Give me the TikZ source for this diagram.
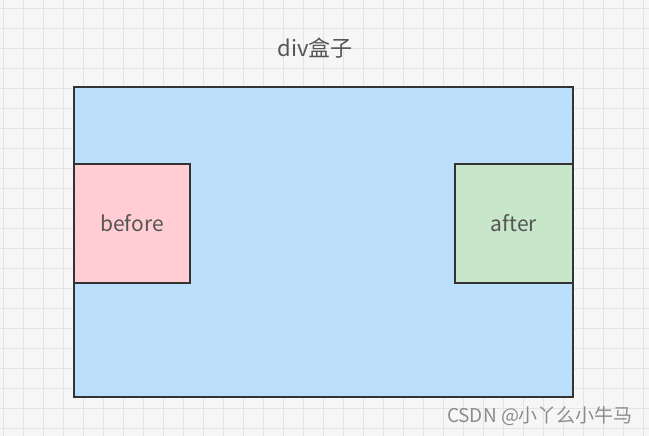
\documentclass[tikz,border=0pt]{standalone}
\usepackage{fontspec}
\newfontfamily\cjk{Noto Sans CJK SC}
\usepackage{tikz}
\definecolor{paper}{RGB}{246,246,246}
\definecolor{gridln}{RGB}{228,228,228}
\definecolor{divblue}{RGB}{187,222,250}
\definecolor{befpink}{RGB}{255,205,210}
\definecolor{aftgreen}{RGB}{200,230,201}
\definecolor{edge}{RGB}{51,51,51}
\definecolor{ink}{RGB}{85,85,85}
\begin{document}
\begin{tikzpicture}[x=1pt,y=-1pt,
  box/.style={draw=edge, line width=2.6pt, rectangle, inner sep=0pt},
  gl/.style={gridln, line width=0.9pt},
  lab/.style={font=\cjk\fontsize{21}{24}\selectfont, text=ink},
  wmark/.style={font=\cjk\fontsize{19}{22}\selectfont, text=black!45},
]
\fill[paper] (0,0) rectangle (649,436);
\useasboundingbox (0,0) rectangle (649,436);
\foreach \gx in {3,23,...,643} \draw[gl] (\gx,0) -- (\gx,436);
\foreach \gy in {8,28,...,428} \draw[gl] (0,\gy) -- (649,\gy);
\node[box, fill=divblue, minimum width=499pt, minimum height=310pt] (div) at (323.5,242) {};
\node[box, fill=befpink, minimum width=116pt, minimum height=119pt, lab] (before) at (132,223.5) {before};
\node[box, fill=aftgreen, minimum width=118pt, minimum height=119pt, lab] (after) at (514,223.5) {after};
\node[lab, font=\cjk\fontsize{22}{25}\selectfont] (title) at (315,48) {div盒子};
\node[wmark] (csdn) at (540,416) {CSDN @小丫么小牛马};
\end{tikzpicture}
\end{document}
